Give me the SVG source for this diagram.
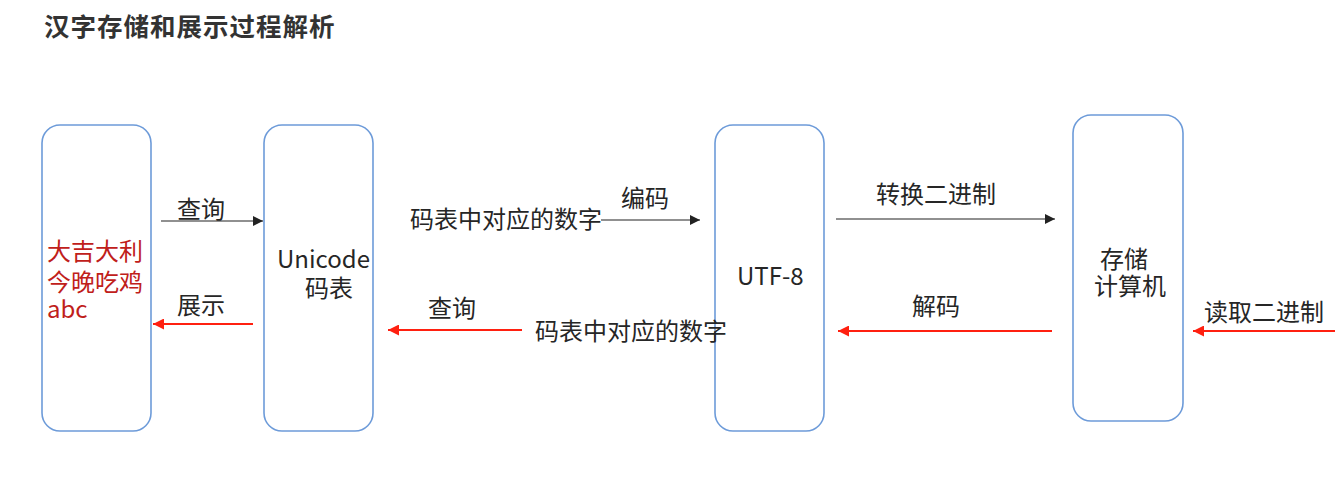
<svg xmlns="http://www.w3.org/2000/svg" width="1343" height="477" viewBox="0 0 1343 477">
<style>
.box{fill:#fff;stroke:#6d9bd9;stroke-width:1.6}
.t{font-family:"Noto Sans CJK SC","Microsoft YaHei",sans-serif;font-size:24px;fill:#262626}
.red{fill:#c0201a}
.ttl{font-family:"Noto Sans CJK SC",sans-serif;font-size:25.5px;font-weight:bold;fill:#333;letter-spacing:1px}
.blk{stroke:#222;stroke-width:1.2;fill:none}
.rl{stroke:#ff2010;stroke-width:2.2;fill:none}
</style>
<defs>
<marker id="ab" viewBox="0 0 10 10" refX="10" refY="5" markerWidth="10" markerHeight="10" markerUnits="userSpaceOnUse" orient="auto"><path d="M0,0 L10,5 L0,10 z" fill="#222"/></marker>
<marker id="ar" viewBox="0 0 10 10" refX="10" refY="5" markerWidth="11" markerHeight="11" markerUnits="userSpaceOnUse" orient="auto"><path d="M0,0 L10,5 L0,10 z" fill="#ff2010"/></marker>
</defs>
<rect width="1343" height="477" fill="#fff"/>
<text class="ttl" x="44" y="36">汉字存储和展示过程解析</text>
<g id="node-chars">
<rect class="box" x="42" y="125" width="109" height="306" rx="18"/>
<text class="t red" x="47" y="260"><tspan x="47" y="260">大吉大利</tspan><tspan x="47" y="291">今晚吃鸡</tspan><tspan x="47" y="318">abc</tspan></text>
</g>
<g id="node-unicode">
<rect class="box" x="264" y="125" width="109" height="306" rx="18"/>
<text class="t" x="277" y="268"><tspan x="277" y="268">Unicode</tspan><tspan x="305" y="297">码表</tspan></text>
</g>
<g id="node-utf8">
<rect class="box" x="715" y="125" width="109" height="306" rx="18"/>
<text class="t" x="737" y="285">UTF-8</text>
</g>
<g id="node-computer">
<rect class="box" x="1073" y="115" width="110" height="306" rx="18"/>
<text class="t" x="1100" y="268"><tspan x="1100" y="268">存储</tspan><tspan x="1094" y="295">计算机</tspan></text>
</g>
<g id="connectors">
<line class="blk" x1="161" y1="221" x2="263" y2="221" marker-end="url(#ab)"/>
<text class="t" x="177" y="218">查询</text>
<line class="rl" x1="253" y1="324" x2="153" y2="324" marker-end="url(#ar)"/>
<text class="t" x="177" y="314">展示</text>
<line class="blk" x1="601" y1="220" x2="700" y2="220" marker-end="url(#ab)"/>
<text class="t" x="410" y="228">码表中对应的数字</text>
<text class="t" x="621" y="207">编码</text>
<line class="rl" x1="522" y1="330" x2="388" y2="330" marker-end="url(#ar)"/>
<text class="t" x="428" y="317">查询</text>
<text class="t" x="535" y="340">码表中对应的数字</text>
<line class="blk" x1="836" y1="219" x2="1055" y2="219" marker-end="url(#ab)"/>
<text class="t" x="876" y="203">转换二进制</text>
<line class="rl" x1="1052" y1="331" x2="838" y2="331" marker-end="url(#ar)"/>
<text class="t" x="912" y="315">解码</text>
<line class="rl" x1="1335" y1="331" x2="1193" y2="331" marker-end="url(#ar)"/>
<text class="t" x="1204" y="321">读取二进制</text>
</g>
</svg>
